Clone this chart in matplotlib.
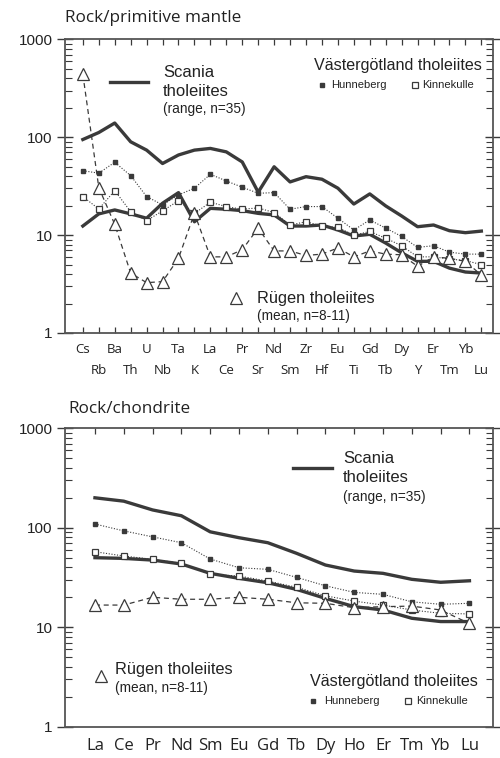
import matplotlib
matplotlib.use("Agg")
import matplotlib.pyplot as plt
from matplotlib.ticker import FixedLocator, NullFormatter
import numpy as np

# spider diagram data (normalised concentrations)
pm_elements = ['Cs', 'Rb', 'Ba', 'Th', 'U', 'Nb', 'Ta', 'K', 'La', 'Ce', 'Pr', 'Sr', 'Nd',
               'Sm', 'Zr', 'Hf', 'Eu', 'Ti', 'Gd', 'Tb', 'Dy', 'Y', 'Er', 'Tm', 'Yb', 'Lu']
pm_scania_hi = [95, 112, 140, 90, 74, 54, 66, 74, 77, 71, 56, 27.5, 50,
                35, 39.6, 37.3, 30.2, 20.8, 26.4, 19.9, 15.7, 12.2, 12.7, 11.1, 10.6, 11]
pm_scania_lo = [12.4, 16.5, 18.1, 16.5, 14.9, 21.2, 27.2, 13.7, 18.8, 18.4, 17.8, 16.7, 16.1,
                12.4, 12.4, 12.7, 11.3, 9.8, 10.2, 8.3, 6.6, 5.4, 5.4, 4.6, 4.2, 4.1]
pm_hunneberg = [45.6, 43, 55.6, 40.6, 24.8, 20.4, 25.8, 30.2, 41.9, 35.8, 30.9, 26.8, 27.2,
                18.4, 19.6, 19.6, 14.9, 11.3, 14.3, 11.8, 9.7, 7.5, 7.8, 6.7, 6.4, 6.4]
pm_kinnekulle = [24.8, 18.5, 28.5, 17.4, 14.1, 17.7, 22.5, 16.7, 21.7, 19.6, 18.4, 19, 17,
                 12.7, 13.7, 12.4, 12, 10, 10.9, 9.3, 7.8, 6.0, 6.0, 5.7, 5.5, 5.0]
pm_rugen = [440, 30.6, 12.9, 4.1, 3.27, 3.35, 5.8, 16.7, 6.0, 6.0, 7.1, 11.8, 6.9,
            6.9, 6.2, 6.4, 7.4, 6.0, 6.9, 6.4, 6.3, 4.8, 6.0, 5.8, 5.4, 3.9]

ree_elements = ['La', 'Ce', 'Pr', 'Nd', 'Sm', 'Eu', 'Gd', 'Tb', 'Dy', 'Ho', 'Er', 'Tm', 'Yb', 'Lu']
ch_scania_hi = [200, 185, 151, 132, 91, 79.4, 70.7, 55.3, 42.2, 36.7, 34.8, 30.3, 28.3, 29.3]
ch_scania_lo = [50, 49.2, 47.3, 43.2, 34.8, 31, 28, 24, 19.5, 16.1, 14.9, 12.3, 11.4, 11.4]
ch_hunneberg = [109, 93, 81, 70.7, 48.5, 39.6, 38.2, 31.7, 26.1, 22.4, 21.4, 18, 17, 17.4]
ch_kinnekulle = [57.4, 52, 48.1, 43.9, 34, 32.7, 29.1, 25.2, 20.7, 18.3, 16.7, 14.9, 13.8, 13.6]
ch_rugen = [16.7, 16.7, 20, 19.1, 19.1, 20, 19.1, 17.6, 17.4, 15.7, 16.1, 16.3, 14.9, 10.9]

ink = '#3a3a3a'
txt = '#222222'
lfont = 'Liberation Sans'
tfont = 'Open Sans'

fig = plt.figure(figsize=(5.0, 7.58), dpi=100)
ax1 = fig.add_axes([0.13, 0.5607, 0.855, 0.3872])
ax2 = fig.add_axes([0.13, 0.0413, 0.855, 0.3937])


def style_axes(ax, xlim):
    ax.set_yscale('log')
    ax.set_ylim(1, 1000)
    ax.set_xlim(*xlim)
    ax.yaxis.set_major_locator(FixedLocator([1, 10, 100, 1000]))
    ax.set_yticklabels(['1', '10', '100', '1000'], fontfamily=lfont, fontsize=11, color=txt)
    ax.yaxis.set_minor_locator(FixedLocator([m * 10.0 ** d for d in range(3) for m in range(2, 10)]))
    ax.yaxis.set_minor_formatter(NullFormatter())
    ax.tick_params(axis='y', which='major', direction='inout', length=12, width=1.0,
                   color=ink, left=True, right=True, pad=3)
    ax.tick_params(axis='y', which='minor', direction='in', length=5, width=0.8,
                   color=ink, left=True, right=True)
    for s in ax.spines.values():
        s.set_color('#555555')
        s.set_linewidth(1.3)


def draw_series(ax, x, hi, lo, hun, kin, rug):
    ax.plot(x, hi, color=ink, lw=2.4, zorder=3, solid_joinstyle='round')
    ax.plot(x, lo, color=ink, lw=2.4, zorder=3, solid_joinstyle='round')
    ax.plot(x, hun, ls=(0, (1, 1.5)), color=ink, lw=0.8, marker='s', ms=3.3,
            mfc=ink, mec=ink, zorder=4)
    ax.plot(x, kin, ls=(0, (1, 1.5)), color=ink, lw=0.8, marker='s', ms=4.5,
            mfc='white', mec=ink, mew=0.9, zorder=4)
    ax.plot(x, rug, ls=(0, (4, 3)), color=ink, lw=0.9, marker='^', ms=8,
            mfc='white', mec=ink, mew=0.9, zorder=5)


def legend_text(ax, x, y, s, size):
    ax.text(x, y, s, transform=ax.transAxes, fontfamily=lfont, fontsize=size,
            color=txt, va='center', ha='left')


def legend_mark(ax, x, y, **kw):
    ax.plot([x], [y], transform=ax.transAxes, ls='', mec=ink, **kw)


# --- primitive mantle normalised ---
x1 = np.arange(len(pm_elements))
style_axes(ax1, (-1.12, 25.7))
draw_series(ax1, x1, pm_scania_hi, pm_scania_lo, pm_hunneberg, pm_kinnekulle, pm_rugen)
ax1.set_xticks(x1[::2])
ax1.set_xticklabels(pm_elements[::2], fontfamily=tfont, fontsize=9.5, color=txt)
ax1.set_xticks(x1[1::2], minor=True)
ax1.set_xticklabels(pm_elements[1::2], minor=True, fontfamily=tfont, fontsize=9.5, color=txt)
ax1.tick_params(axis='x', which='major', direction='in', length=4, width=0.9, color=ink,
                top=True, bottom=True, pad=7)
ax1.tick_params(axis='x', which='minor', direction='in', length=4, width=0.9, color=ink,
                top=True, bottom=True, pad=22.5)

fig.text(0.13, 0.976, 'Rock/primitive mantle', fontfamily=tfont, fontsize=12.3,
         color=txt, va='center', ha='left')

ax1.plot([0.105, 0.194], [0.855, 0.855], transform=ax1.transAxes, color=ink, lw=2.4)
legend_text(ax1, 0.229, 0.889, 'Scania', 12)
legend_text(ax1, 0.229, 0.824, 'tholeiites', 12)
legend_text(ax1, 0.229, 0.763, '(range, n=35)', 9.8)
legend_text(ax1, 0.583, 0.913, 'Västergötland tholeiites', 11.6)
legend_mark(ax1, 0.601, 0.845, marker='s', ms=3.3, mfc=ink)
legend_text(ax1, 0.622, 0.845, 'Hunneberg', 8)
legend_mark(ax1, 0.818, 0.845, marker='s', ms=4.3, mfc='white', mew=0.9)
legend_text(ax1, 0.836, 0.845, 'Kinnekulle', 8)
legend_mark(ax1, 0.4, 0.118, marker='^', ms=8, mfc='white', mew=0.9)
legend_text(ax1, 0.45, 0.119, 'Rügen tholeiites', 11.8)
legend_text(ax1, 0.45, 0.058, '(mean, n=8-11)', 9.8)

# --- chondrite normalised REE ---
x2 = np.arange(len(ree_elements))
style_axes(ax2, (-1.04, 13.8))
draw_series(ax2, x2, ch_scania_hi, ch_scania_lo, ch_hunneberg, ch_kinnekulle, ch_rugen)
ax2.set_xticks(x2)
ax2.set_xticklabels(ree_elements, fontfamily=tfont, fontsize=12, color=txt)
ax2.tick_params(axis='x', which='major', direction='in', length=4, width=0.9, color=ink,
                top=True, bottom=False, pad=8)

fig.text(0.136, 0.461, 'Rock/chondrite', fontfamily=tfont, fontsize=12.3,
         color=txt, va='center', ha='left')

ax2.plot([0.533, 0.624], [0.867, 0.867], transform=ax2.transAxes, color=ink, lw=2.4)
legend_text(ax2, 0.65, 0.90, 'Scania', 12)
legend_text(ax2, 0.65, 0.834, 'tholeiites', 12)
legend_text(ax2, 0.65, 0.77, '(range, n=35)', 9.8)
legend_mark(ax2, 0.084, 0.17, marker='^', ms=8, mfc='white', mew=0.9)
legend_text(ax2, 0.117, 0.19, 'Rügen tholeiites', 11.8)
legend_text(ax2, 0.117, 0.13, '(mean, n=8-11)', 9.8)
legend_text(ax2, 0.573, 0.153, 'Västergötland tholeiites', 11.6)
legend_mark(ax2, 0.58, 0.086, marker='s', ms=3.3, mfc=ink)
legend_text(ax2, 0.607, 0.086, 'Hunneberg', 8)
legend_mark(ax2, 0.803, 0.086, marker='s', ms=4.3, mfc='white', mew=0.9)
legend_text(ax2, 0.822, 0.086, 'Kinnekulle', 8)

fig.savefig('out.png', dpi=100)
